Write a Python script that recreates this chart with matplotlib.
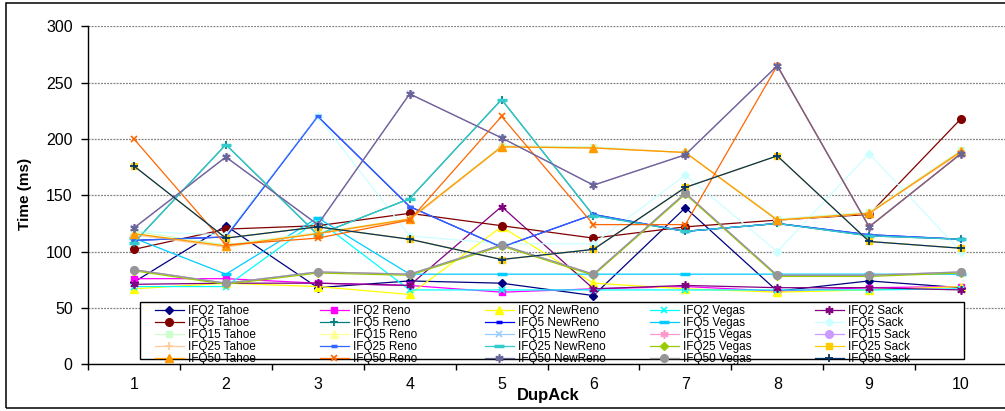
import matplotlib
matplotlib.use("Agg")
import matplotlib.pyplot as plt
from matplotlib.patches import Rectangle

plt.rcParams['font.family'] = ['Liberation Sans', 'DejaVu Sans']

# ---- data -------------------------------------------------------------
dupack = [1, 2, 3, 4, 5, 6, 7, 8, 9, 10]
queue_sizes = ["IFQ2", "IFQ5", "IFQ15", "IFQ25", "IFQ50"]
variants = ["Tahoe", "Reno", "NewReno", "Vegas", "Sack"]
y_ticks = [0, 50, 100, 150, 200, 250, 300]

ifq2_tahoe = [73, 123, 68, 74, 72, 61, 139, 65, 74, 68]
ifq2_reno = [76, 76, 72, 70, 64, 67, 69, 65, 68, 69]
ifq2_newreno = [67, 72, 69, 62, 122, 72, 67, 64, 66, 69]
ifq2_vegas = [69, 69, 128, 66, 66, 66, 66, 66, 66, 67]
ifq2_sack = [71, 72, 72, 70, 140, 67, 70, 68, 68, 66]

ifq5_tahoe = [102, 120, 123, 134, 123, 112, 122, 128, 133, 218]
ifq5_reno = [108, 195, 115, 147, 235, 132, 118, 125, 114, 111]
ifq5_newreno = [110, 113, 220, 140, 104, 133, 118, 125, 115, 111]
ifq5_vegas = [112, 80, 130, 80, 80, 80, 80, 80, 80, 80]
ifq5_sack = [118, 115, 220, 114, 107, 107, 168, 100, 187, 100]

ifq15_tahoe = [118, 106, 117, 129, 194, 193, 188, 129, 135, 190]
ifq15_reno = [116, 105, 116, 129, 193, 192, 188, 128, 134, 189]
ifq15_newreno = [121, 184, 124, 240, 201, 159, 186, 265, 122, 187]
ifq15_vegas = [121, 184, 124, 240, 201, 159, 186, 265, 122, 187]
ifq15_sack = [84, 72, 82, 80, 106, 80, 152, 79, 79, 82]

ifq25_tahoe = [115, 104, 116, 128, 193, 192, 188, 128, 134, 188]
ifq25_reno = [110, 113, 220, 140, 104, 133, 118, 125, 115, 111]
ifq25_newreno = [108, 195, 115, 147, 235, 132, 118, 125, 114, 111]
ifq25_vegas = [83, 71, 81, 79, 105, 79, 151, 78, 78, 81]
ifq25_sack = [176, 112, 122, 111, 93, 102, 157, 185, 109, 103]

ifq50_tahoe = [116, 105, 116, 129, 193, 192, 188, 128, 134, 189]
ifq50_reno = [200, 106, 112, 128, 220, 124, 124, 265, 122, 187]
ifq50_newreno = [121, 184, 124, 240, 201, 159, 186, 265, 122, 187]
ifq50_vegas = [84, 72, 82, 80, 106, 80, 152, 79, 79, 82]
ifq50_sack = [176, 112, 122, 111, 93, 102, 157, 185, 109, 103]

series_values = [
    ifq2_tahoe, ifq2_reno, ifq2_newreno, ifq2_vegas, ifq2_sack,
    ifq5_tahoe, ifq5_reno, ifq5_newreno, ifq5_vegas, ifq5_sack,
    ifq15_tahoe, ifq15_reno, ifq15_newreno, ifq15_vegas, ifq15_sack,
    ifq25_tahoe, ifq25_reno, ifq25_newreno, ifq25_vegas, ifq25_sack,
    ifq50_tahoe, ifq50_reno, ifq50_newreno, ifq50_vegas, ifq50_sack,
]

# ---- styling ----------------------------------------------------------
colors = [
    "#000080", "#FF00FF", "#FFFF00", "#00FFFF", "#800080",
    "#800000", "#008080", "#0000FF", "#00CCFF", "#CCFFFF",
    "#CCFFCC", "#FFFF99", "#99CCFF", "#FF99CC", "#CC99FF",
    "#FFCC99", "#3366FF", "#33CCCC", "#99CC00", "#FFCC00",
    "#FF9900", "#FF6600", "#666699", "#969696", "#003366",
]
# marker cycle: diamond, square, triangle, x, asterisk, circle, plus, short dash, long dash
marker_cycle = [
    ("D", 4.5, 1.0), ("s", 5.0, 1.0), ("^", 6.0, 1.0), ("x", 5.0, 1.2),
    ((6, 2, 0), 6.0, 1.2), ("o", 5.5, 1.0), ("+", 6.0, 1.3),
    ("_", 5.0, 2.5), ("_", 7.0, 2.5),
]

W, H = 1005, 411
fig = plt.figure(figsize=(W / 100, H / 100), dpi=100)
fig.patch.set_facecolor("white")

ax_left, ax_right = 88, 1007
ax_top, ax_bottom = 26.3, 364.3
ax = fig.add_axes([ax_left / W, (H - ax_bottom) / H,
                   (ax_right - ax_left) / W, (ax_bottom - ax_top) / H])

handles = []
for i, vals in enumerate(series_values):
    mk, ms, mew = marker_cycle[i % 9]
    label = f"{queue_sizes[i // 5]} {variants[i % 5]}"
    (ln,) = ax.plot(dupack, vals, color=colors[i], lw=0.9,
                    marker=mk, markersize=ms, markeredgewidth=mew,
                    markerfacecolor=colors[i], markeredgecolor=colors[i],
                    label=label, clip_on=False)
    handles.append(ln)

ax.set_xlim(0.5, 10.5)
ax.set_ylim(0, 300)
ax.set_yticks(y_ticks)
ax.set_yticklabels([str(v) for v in y_ticks])
ax.set_xticks(dupack)
ax.set_xticklabels([str(v) for v in dupack])
ax.set_xticks([x + 0.5 for x in [0] + dupack], minor=True)

ax.tick_params(axis="y", direction="out", length=5, width=1, pad=6,
               labelsize=11.5, colors="black")
ax.tick_params(axis="x", which="major", length=0, pad=9, labelsize=11.5)
ax.tick_params(axis="x", which="minor", direction="out", length=4, width=1)

for side in ("top", "right"):
    ax.spines[side].set_visible(False)
for side in ("left", "bottom"):
    ax.spines[side].set_color("black")
    ax.spines[side].set_linewidth(1.0)

ax.set_axisbelow(True)
ax.yaxis.grid(True, color="#808080", lw=0.9, ls=(0, (1.5, 1)))

ax.set_xlabel("DupAck", fontsize=12, fontweight="bold")
ax.xaxis.label.set_va("center")
ax.xaxis.set_label_coords((548 - ax_left) / (ax_right - ax_left),
                          -(395 - ax_bottom) / (ax_bottom - ax_top))
ax.set_ylabel("Time (ms)", fontsize=11, fontweight="bold")
ax.yaxis.label.set_va("center")
ax.yaxis.set_label_coords(-(ax_left - 24.5) / (ax_right - ax_left),
                          (ax_bottom - 194) / (ax_bottom - ax_top))

# ---- legend: white box with five columns of entries -----------------
box_l, box_r, box_t, box_b = 140, 964, 301.7, 359
fig.patches.append(Rectangle((box_l / W, (H - box_b) / H),
                             (box_r - box_l) / W, (box_b - box_t) / H,
                             transform=fig.transFigure, facecolor="white",
                             edgecolor="black", lw=1.0, zorder=2))
col_x = [155, 320, 485, 650, 815]
legend_top = 305.3
for c in range(5):
    col_handles = [handles[r * 5 + c] for r in range(5)]
    fig.legend(handles=col_handles, loc="upper left",
               bbox_to_anchor=(col_x[c] / W, (H - legend_top) / H),
               bbox_transform=fig.transFigure, frameon=False,
               borderpad=0, borderaxespad=0, labelspacing=0,
               handlelength=2.45, handletextpad=0.35, fontsize=8.5)

# chart border
fig.patches.append(Rectangle((6 / W, 3 / H), (1010 - 6) / W, (408 - 3) / H,
                             transform=fig.transFigure, fill=False,
                             edgecolor="black", lw=1.1, zorder=3))

fig.savefig("out.png", dpi=100)
